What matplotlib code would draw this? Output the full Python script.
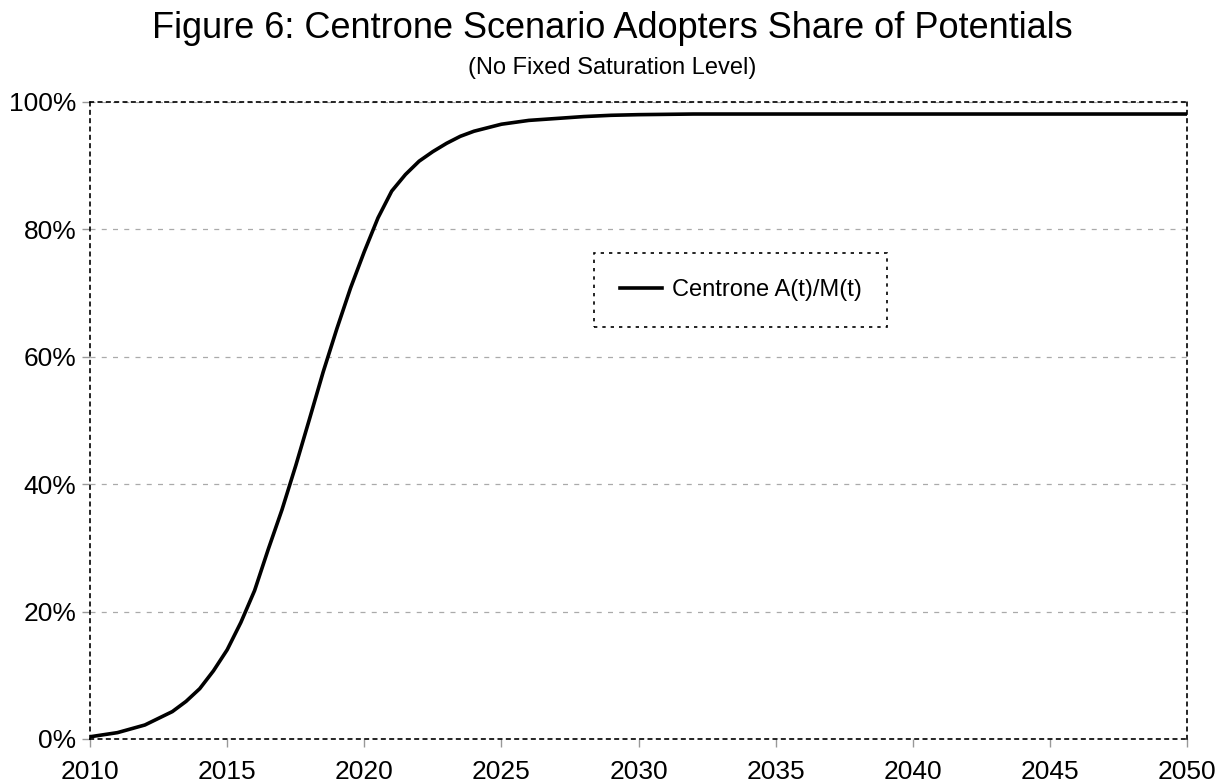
import matplotlib.pyplot as plt
from matplotlib.ticker import PercentFormatter

plt.rcParams['font.family'] = ['Liberation Sans', 'DejaVu Sans']

# years and adopters share of potentials (%)
years = [2010, 2011, 2012, 2013, 2013.5, 2014, 2014.5, 2015, 2015.5, 2016,
         2016.5, 2017, 2017.5, 2018, 2018.5, 2019, 2019.5, 2020, 2020.5, 2021,
         2021.5, 2022, 2022.5, 2023, 2023.5, 2024, 2025, 2026, 2027, 2028,
         2029, 2030, 2032, 2035, 2040, 2045, 2050]
share = [0.35, 1.0, 2.2, 4.3, 5.9, 7.9, 10.7, 14.0, 18.3, 23.3,
         29.8, 36.0, 42.9, 50.2, 57.6, 64.4, 70.8, 76.5, 81.8, 86.0,
         88.6, 90.7, 92.2, 93.5, 94.6, 95.4, 96.5, 97.1, 97.4, 97.7,
         97.9, 98.0, 98.1, 98.1, 98.1, 98.1, 98.1]

xticks = [2010, 2015, 2020, 2025, 2030, 2035, 2040, 2045, 2050]
yticks = [0, 20, 40, 60, 80, 100]

fig = plt.figure(figsize=(12.25, 7.84), dpi=100)
ax = fig.add_axes([0.0735, 0.0574, 0.8955, 0.8126])

ax.plot(years, share, color='black', lw=2.6, solid_joinstyle='round',
        label='Centrone A(t)/M(t)')

ax.set_xlim(2010, 2050)
ax.set_ylim(0, 100)
ax.set_xticks(xticks)
ax.set_yticks(yticks)
ax.yaxis.set_major_formatter(PercentFormatter(decimals=0))
ax.tick_params(labelsize=19, length=6, color='#999999', width=1)
ax.tick_params(axis='x', pad=9)
ax.tick_params(axis='y', pad=4)

ax.grid(axis='y', color='#aaaaaa', linestyle=(0, (4, 5)), lw=0.9)
for s in ax.spines.values():
    s.set_linestyle((0, (2, 3)))
    s.set_linewidth(1.2)
    s.set_color('black')

leg = ax.legend(loc='center', bbox_to_anchor=(0.593, 0.705), fontsize=17,
                fancybox=False, framealpha=1, edgecolor='black',
                handlelength=1.8, borderpad=1.1, handletextpad=0.4)
leg.get_frame().set_linestyle((0, (2, 3)))
leg.get_frame().set_linewidth(1.2)

fig.text(0.5, 0.964, 'Figure 6: Centrone Scenario Adopters Share of Potentials',
         ha='center', va='center', fontsize=26)
fig.text(0.5, 0.913, '(No Fixed Saturation Level)',
         ha='center', va='center', fontsize=17)

fig.savefig('out.png', dpi=100)
